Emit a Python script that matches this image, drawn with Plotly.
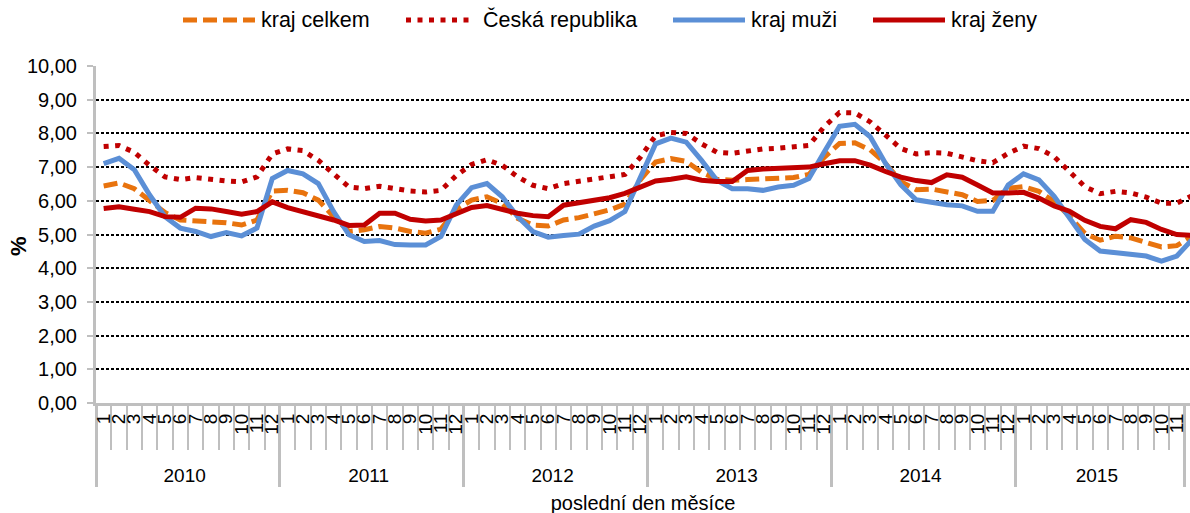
import plotly.graph_objects as go

years = ["2010", "2011", "2012", "2013", "2014", "2015"]
months = [str(m) for m in range(1, 13)]

kraj_celkem = [
    6.44, 6.53, 6.36, 6.02, 5.65, 5.43, 5.40, 5.35, 5.35, 5.28, 5.43, 6.29,
    6.31, 6.24, 6.02, 5.53, 5.09, 5.14, 5.24, 5.19, 5.09, 5.04, 5.16, 5.75,
    6.02, 6.12, 5.92, 5.48, 5.28, 5.25, 5.43, 5.50, 5.63, 5.73, 5.90, 6.62,
    7.15, 7.25, 7.17, 6.85, 6.64, 6.61, 6.63, 6.64, 6.66, 6.69, 6.78, 7.29,
    7.70, 7.72, 7.51, 7.11, 6.57, 6.33, 6.35, 6.28, 6.18, 5.98, 6.01, 6.37,
    6.42, 6.28, 5.98, 5.54, 5.03, 4.83, 4.95, 4.90, 4.75, 4.63, 4.67, 4.95,
]
ceska_republika = [
    7.61, 7.64, 7.44, 7.05, 6.71, 6.63, 6.69, 6.63, 6.59, 6.56, 6.71, 7.39,
    7.54, 7.49, 7.20, 6.80, 6.41, 6.36, 6.43, 6.36, 6.29, 6.26, 6.31, 6.75,
    7.08, 7.22, 7.05, 6.71, 6.46, 6.36, 6.51, 6.58, 6.64, 6.69, 6.78, 7.29,
    7.93, 8.03, 8.00, 7.69, 7.44, 7.41, 7.49, 7.54, 7.56, 7.59, 7.64, 8.20,
    8.62, 8.61, 8.34, 7.95, 7.55, 7.39, 7.43, 7.41, 7.31, 7.19, 7.13, 7.41,
    7.62, 7.55, 7.31, 6.87, 6.42, 6.21, 6.28, 6.23, 6.11, 5.93, 5.93, 6.15,
]
kraj_muzi = [
    7.10, 7.26, 6.92, 6.17, 5.53, 5.19, 5.09, 4.94, 5.06, 4.96, 5.19, 6.66,
    6.90, 6.80, 6.51, 5.68, 4.99, 4.79, 4.82, 4.70, 4.69, 4.69, 4.94, 5.87,
    6.39, 6.51, 6.12, 5.53, 5.09, 4.92, 4.97, 5.01, 5.25, 5.41, 5.68, 6.71,
    7.69, 7.86, 7.74, 7.20, 6.61, 6.36, 6.36, 6.31, 6.41, 6.46, 6.66, 7.45,
    8.21, 8.27, 7.90, 7.11, 6.47, 6.03, 5.96, 5.88, 5.85, 5.69, 5.69, 6.47,
    6.80, 6.62, 6.13, 5.49, 4.85, 4.51, 4.46, 4.41, 4.36, 4.21, 4.36, 4.85,
]
kraj_zeny = [
    5.77, 5.82, 5.75, 5.68, 5.53, 5.51, 5.78, 5.76, 5.68, 5.60, 5.68, 5.97,
    5.80, 5.68, 5.58, 5.43, 5.27, 5.28, 5.63, 5.63, 5.45, 5.40, 5.43, 5.63,
    5.80, 5.86, 5.73, 5.63, 5.56, 5.53, 5.87, 5.94, 6.04, 6.09, 6.22, 6.39,
    6.59, 6.64, 6.71, 6.61, 6.57, 6.57, 6.90, 6.94, 6.96, 6.98, 7.00, 7.10,
    7.19, 7.19, 7.06, 6.87, 6.70, 6.60, 6.54, 6.77, 6.70, 6.47, 6.23, 6.23,
    6.25, 6.08, 5.85, 5.69, 5.42, 5.24, 5.17, 5.44, 5.36, 5.15, 5.00, 4.97,
]

series_names = ["kraj celkem", "Česká republika", "kraj muži", "kraj ženy"]
series_values = [kraj_celkem, ceska_republika, kraj_muzi, kraj_zeny]
series_colors = ["#E8730E", "#C00000", "#5B8FD6", "#C00000"]
series_dash = ["14px,6px", "5px,6.5px", "solid", "solid"]

# month tick labels (non-breaking padding keeps the year row lower, as in the original)
PAD = "\u00a0\u00a0"
x_outer = [y for y in years for _ in months]
x_inner = [PAD + m for _ in years for m in months]
x = [x_outer, x_inner]

FONT = "Liberation Sans, Arial, sans-serif"
W, H = 1190, 513
ML, MT, MB = 96, 66, 110
PW, PH = W - ML, H - MT - MB

def px_x(p):
    return (p - ML) / PW

def px_y(p):
    return 1 + (MT - p) / PH

fig = go.Figure()
for name, vals, col, dash in zip(series_names, series_values, series_colors, series_dash):
    fig.add_trace(go.Scatter(x=x, y=vals, name=name, mode="lines",
                             line=dict(color=col, width=5, dash=dash),
                             showlegend=False))

# legend drawn as samples + labels (positions in pixels)
legend_sample = [(183, 255), (406, 470), (673, 745), (873, 945)]
legend_text_x = [261, 483, 751, 951]
legend_y = 20
for name, col, dash, (x0, x1), tx in zip(series_names, series_colors, series_dash,
                                         legend_sample, legend_text_x):
    fig.add_shape(type="line", xref="paper", yref="paper",
                  x0=px_x(x0), x1=px_x(x1), y0=px_y(legend_y), y1=px_y(legend_y),
                  line=dict(color=col, width=5, dash=dash))
    fig.add_annotation(xref="paper", yref="paper", x=px_x(tx), y=px_y(legend_y),
                       text=name, showarrow=False, xanchor="left", yanchor="middle",
                       font=dict(size=21.5), xshift=-2)

# y-axis title "%"
fig.add_annotation(xref="paper", yref="paper", x=px_x(18), y=px_y(246),
                   text="<b>%</b>", textangle=-90, showarrow=False,
                   xanchor="center", yanchor="middle", font=dict(size=22))

fig.update_layout(
    width=W, height=H,
    margin=dict(l=ML, r=0, t=MT, b=MB, autoexpand=False),
    paper_bgcolor="white", plot_bgcolor="white",
    font=dict(family=FONT, size=20, color="black"),
    separators=", ",
    showlegend=False,
)
fig.update_yaxes(
    range=[0, 10], dtick=1, tickformat=".2f",
    showgrid=True, gridcolor="black", gridwidth=1.5, griddash="3px,2px",
    showline=True, linecolor="#BFBFBF", linewidth=3,
    ticks="outside", ticklen=6, tickcolor="#BFBFBF", tickwidth=2,
    ticklabelstandoff=6,
    zeroline=False,
)
fig.update_xaxes(
    type="multicategory", range=[-0.5, 70.86], dtick=1,
    showgrid=False, showline=True, linecolor="#BFBFBF", linewidth=3,
    ticks="outside", ticklen=44, tickcolor="#BFBFBF", tickwidth=2,
    tickson="boundaries", tickangle=-90, tickfont=dict(size=19),
    showdividers=True, dividercolor="#BFBFBF", dividerwidth=3,
    title=dict(text="poslední den měsíce", font=dict(size=20), standoff=12),
)

fig.write_html("out.html", config={"displayModeBar": False},
               post_script="document.body.style.margin='0px';")
